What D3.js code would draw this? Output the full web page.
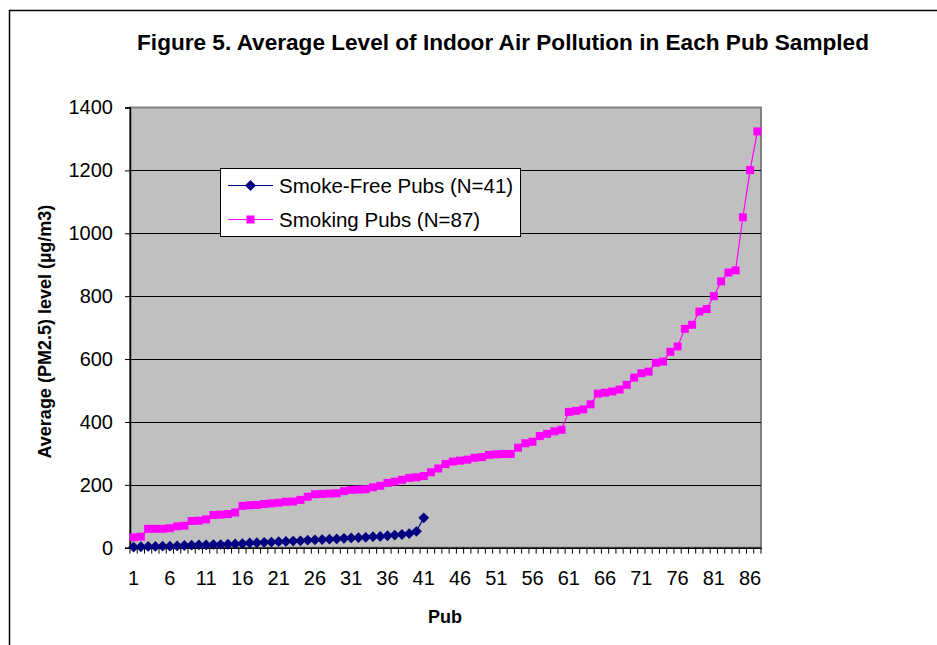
<!DOCTYPE html>
<html><head><meta charset="utf-8">
<script src="https://cdn.jsdelivr.net/npm/d3@7/dist/d3.min.js"></script>
<style>body{margin:0;background:#fff;} svg{display:block;font-family:"Liberation Sans",Arial,sans-serif;}</style>
</head><body><svg id="c" width="937" height="645"></svg>
<script>
const title = "Figure 5. Average Level of Indoor Air Pollution in Each Pub Sampled";
const yTitle = "Average (PM2.5) level (µg/m3)";
const xTitle = "Pub";
const seriesNames = ["Smoke-Free Pubs (N=41)", "Smoking Pubs (N=87)"];
const smokeFree = [2,3,4,4,5,5,6,7,8,9,9,10,10,11,12,13,15,16,17,18,19,20,21,22,24,25,26,27,28,30,31,32,33,35,36,38,40,42,45,52,95];
const smoking = [33,35,60,60,60,62,68,70,85,86,90,104,105,107,112,133,135,136,139,141,143,146,147,152,162,170,171,172,173,180,184,185,186,192,197,206,210,216,222,224,228,240,252,266,274,277,280,286,288,295,297,298,298,318,332,337,355,362,370,375,432,435,440,456,490,493,497,503,518,541,555,560,588,592,623,640,696,709,751,759,800,847,875,882,1051,1201,1324];
const pubs = d3.range(1, 88);
const yTicks = [0,200,400,600,800,1000,1200,1400];
const xTickLabels = [1,6,11,16,21,26,31,36,41,46,51,56,61,66,71,76,81,86];

const svg = d3.select("#c");
const L = 130, R = 761, T = 107.5, B = 547.7;
const x = d3.scaleBand().domain(pubs).range([L, R]);
const y = d3.scaleLinear().domain([0, 1400]).range([B, T]);
const cx = d => x(d) + x.bandwidth() / 2;

// outer border
svg.append("path").attr("d", `M9.5,645 V10.5 H937`).attr("fill", "none").attr("stroke", "#000").attr("stroke-width", 1.5);

svg.append("text").attr("x", 503).attr("y", 50).attr("text-anchor", "middle")
  .attr("font-size", 22.6).attr("font-weight", "bold").text(title);

// plot area
svg.append("rect").attr("x", L).attr("y", T).attr("width", R - L).attr("height", B - T)
  .attr("fill", "#C0C0C0").attr("stroke", "#808080").attr("stroke-width", 2);

// gridlines
svg.append("g").selectAll("line").data(yTicks.filter(t => t > 0 && t < 1400)).join("line")
  .attr("x1", L).attr("x2", R).attr("y1", d => Math.round(y(d)) + 0.5).attr("y2", d => Math.round(y(d)) + 0.5)
  .attr("stroke", "#000").attr("stroke-width", 1);

// y axis
const ya = svg.append("g").attr("transform", `translate(${L},0)`)
  .call(d3.axisLeft(y).tickValues(yTicks).tickFormat(d3.format("d")).tickSize(5).tickPadding(12));
ya.select(".domain").attr("stroke", "#000").attr("stroke-width", 1.5);
ya.selectAll(".tick text").attr("font-size", 20).attr("fill", "#000").attr("font-family", "Liberation Sans, Arial, sans-serif");

// x axis
const xa = svg.append("g").attr("transform", `translate(0,${B})`)
  .call(d3.axisBottom(x).tickValues(xTickLabels).tickSize(0).tickPadding(23));
xa.select(".domain").attr("stroke", "#000").attr("stroke-width", 1.5);
xa.selectAll(".tick text").attr("font-size", 20).attr("fill", "#000").attr("font-family", "Liberation Sans, Arial, sans-serif");
// category-boundary ticks
svg.append("g").selectAll("line").data(pubs.concat([88])).join("line")
  .attr("x1", d => d <= 87 ? x(d) : R).attr("x2", d => d <= 87 ? x(d) : R)
  .attr("y1", B).attr("y2", B + 6).attr("stroke", "#000").attr("stroke-width", 1);

// titles
svg.append("text").attr("transform", `translate(51,${(T + B) / 2 + 4}) rotate(-90)`).attr("text-anchor", "middle")
  .attr("font-size", 18).attr("font-weight", "bold").text(yTitle);
svg.append("text").attr("x", 445).attr("y", 623).attr("text-anchor", "middle")
  .attr("font-size", 18).attr("font-weight", "bold").text(xTitle);

// series
const line = d3.line().x((d, i) => cx(i + 1)).y(d => y(d));
const diamondPath = d3.symbol().type(d3.symbolSquare).size(58)();
const square = d3.symbol().type(d3.symbolSquare).size(64);

svg.append("path").datum(smoking).attr("d", line).attr("fill", "none").attr("stroke", "#FF00FF").attr("stroke-width", 1.2);
svg.append("g").selectAll("path").data(smoking).join("path")
  .attr("transform", (d, i) => `translate(${cx(i + 1)},${y(d)})`).attr("d", square).attr("fill", "#FF00FF");

svg.append("path").datum(smokeFree).attr("d", line).attr("fill", "none").attr("stroke", "#000080").attr("stroke-width", 1.2);
svg.append("g").selectAll("path").data(smokeFree).join("path")
  .attr("transform", (d, i) => `translate(${cx(i + 1)},${y(d)}) rotate(45)`).attr("d", diamondPath).attr("fill", "#000080");

// legend
const lg = svg.append("g");
lg.append("rect").attr("x", 220.5).attr("y", 168.5).attr("width", 300).attr("height", 68)
  .attr("fill", "#fff").attr("stroke", "#000").attr("stroke-width", 1);
const items = [{name: seriesNames[0], color: "#000080", d: diamondPath, rot: 45}, {name: seriesNames[1], color: "#FF00FF", d: square(), rot: 0}];
items.forEach((it, i) => {
  const yy = 185.5 + i * 34;
  lg.append("line").attr("x1", 228).attr("x2", 273).attr("y1", yy).attr("y2", yy).attr("stroke", it.color).attr("stroke-width", 1.2);
  lg.append("path").attr("transform", `translate(250.5,${yy}) rotate(${it.rot})`).attr("d", it.d).attr("fill", it.color);
  lg.append("text").attr("x", 279).attr("y", yy + 7).attr("font-size", 20.5).text(it.name);
});
</script></body></html>
